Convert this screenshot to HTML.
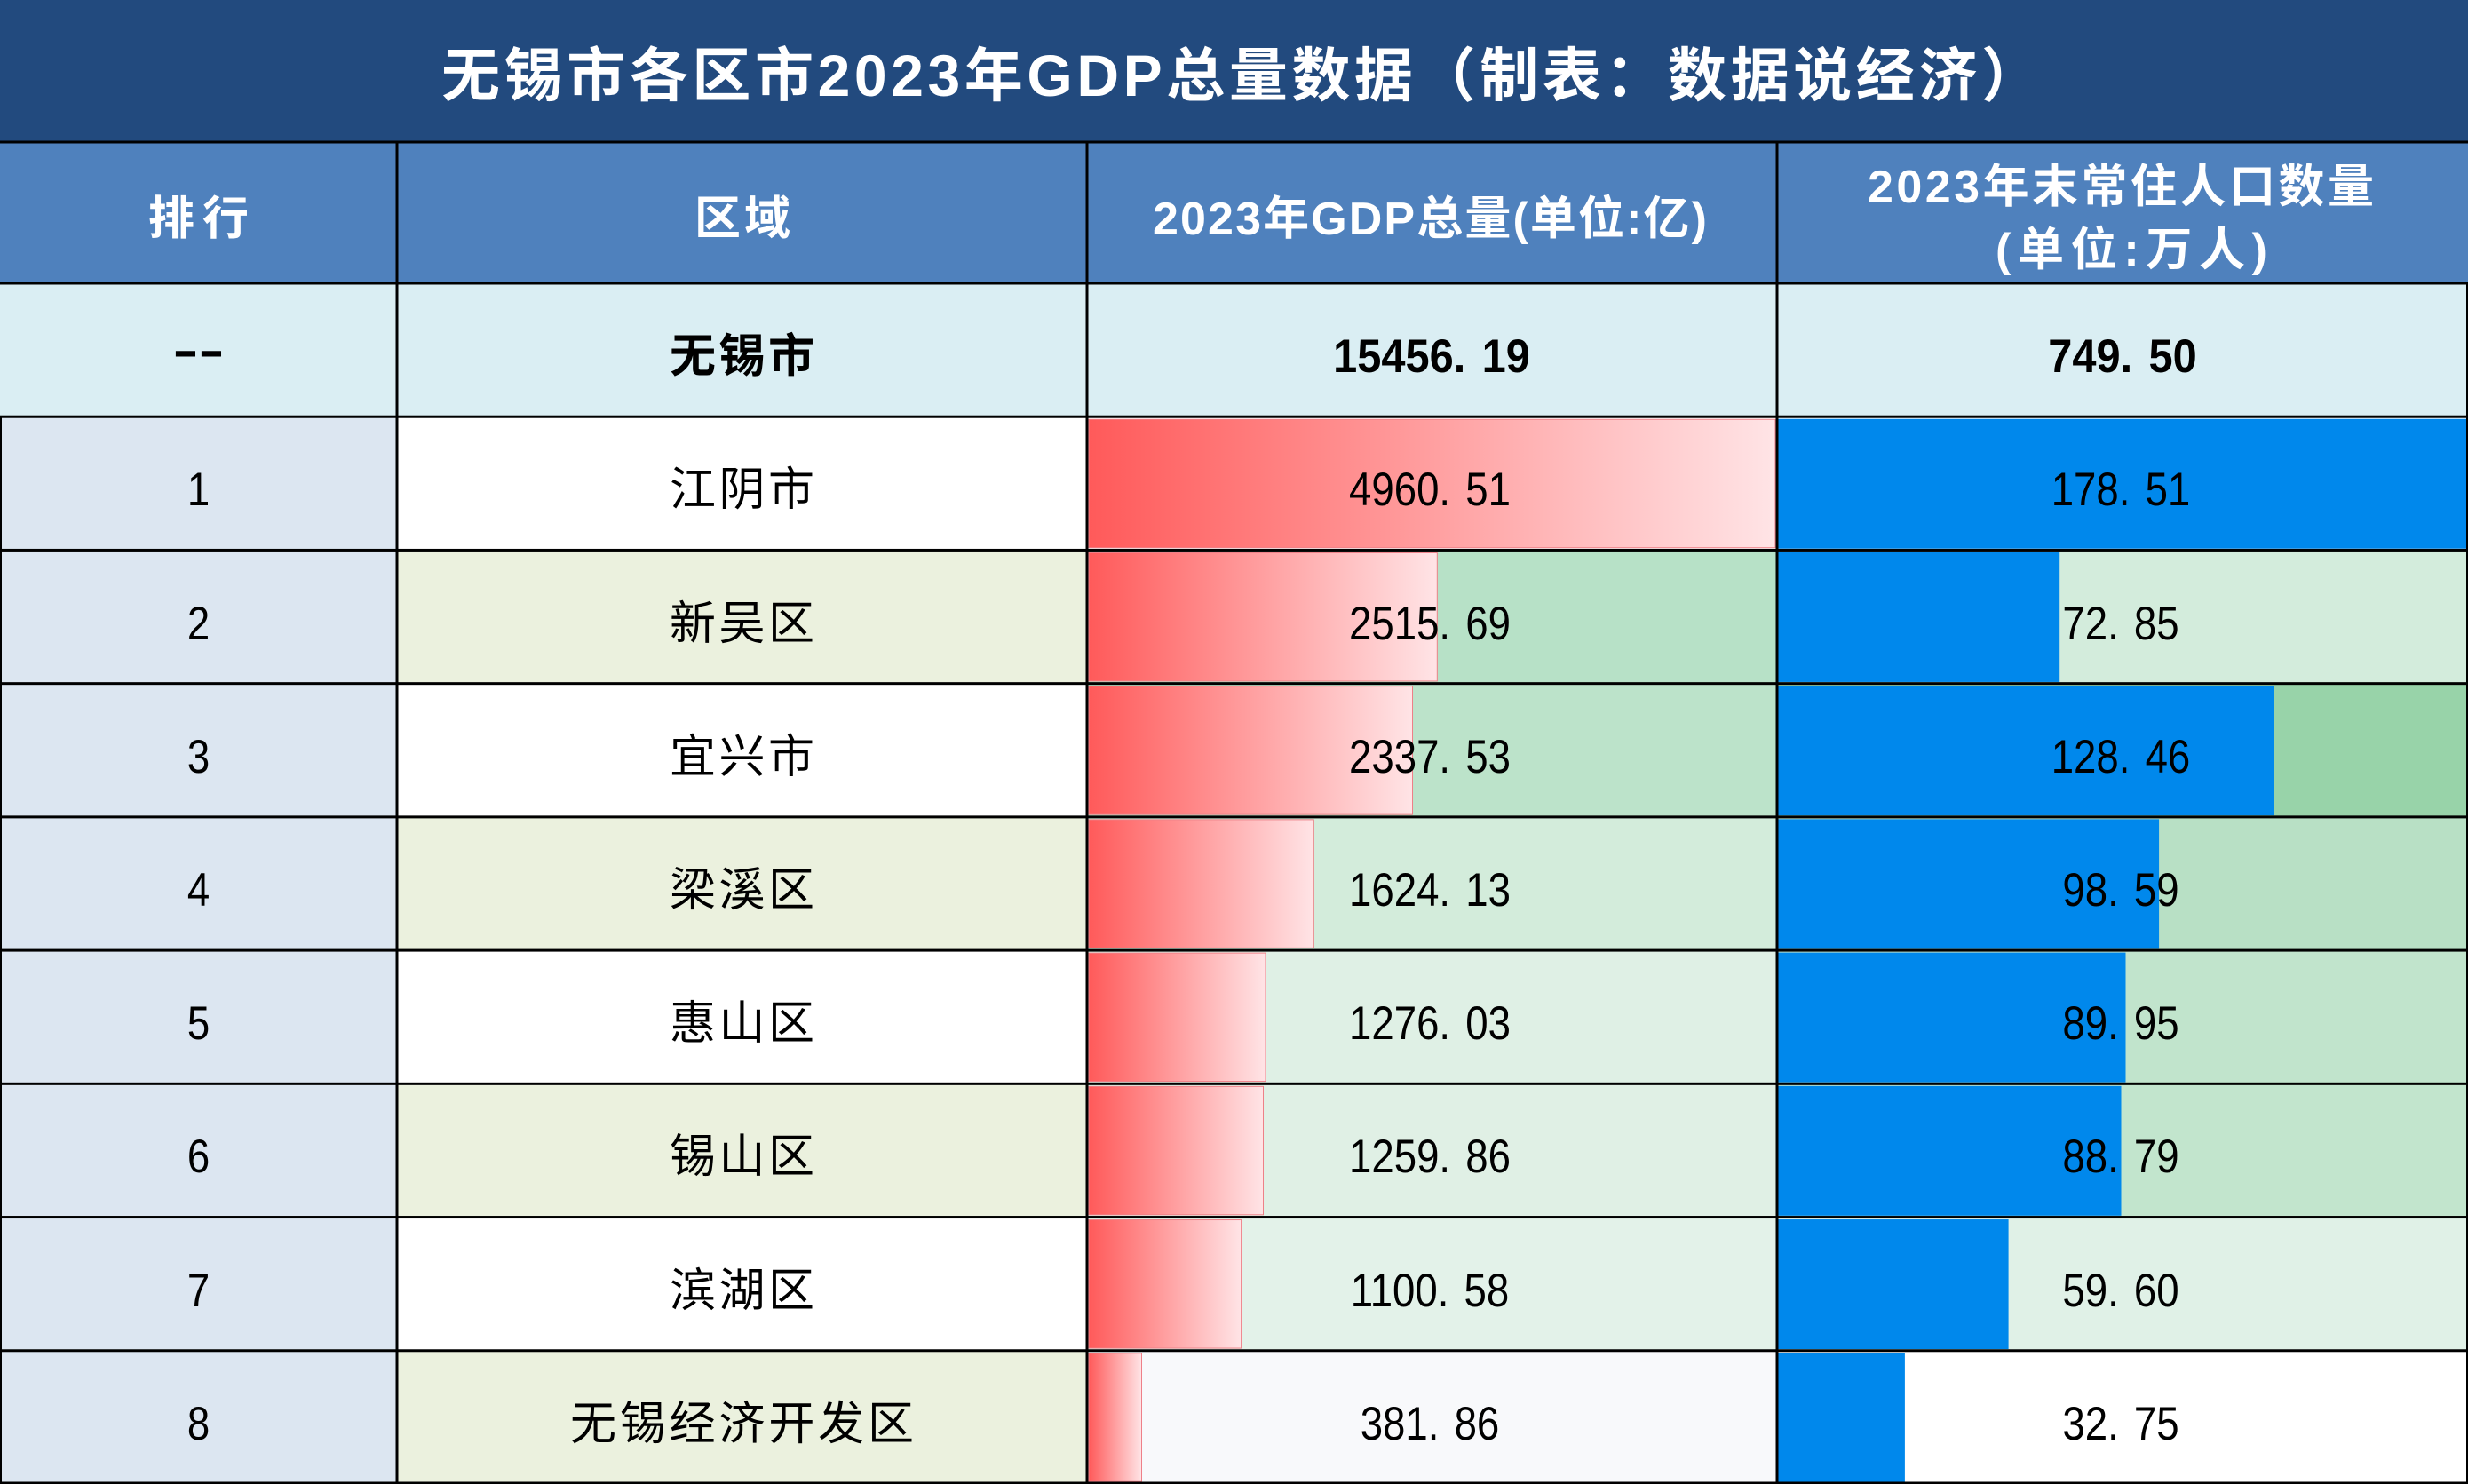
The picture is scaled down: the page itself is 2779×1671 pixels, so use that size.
<!DOCTYPE html>
<html>
<head>
<meta charset="utf-8">
<style>
html,body{margin:0;padding:0;background:#fff;}
body{width:2779px;height:1671px;overflow:hidden;}
svg{display:block;}
.cj{font-family:"Liberation Sans","Noto Sans CJK SC",sans-serif;}
.n{font-family:"Liberation Sans",sans-serif;font-size:53px;text-anchor:middle;fill:#000;}
.rg{font-size:52px;text-anchor:middle;fill:#000;}
.hd{font-size:52px;font-weight:bold;text-anchor:middle;fill:#fff;}
</style>
</head>
<body>
<svg width="2779" height="1671" viewBox="0 0 2779 1671" xmlns="http://www.w3.org/2000/svg">
<defs>
<linearGradient id="rg" x1="0" y1="0" x2="1" y2="0">
<stop offset="0" stop-color="#FF5A5A"/>
<stop offset="1" stop-color="#FFE4E6"/>
</linearGradient>
</defs>

<rect x="0" y="0" width="2779" height="160" fill="#224A7E"/>
<rect x="0" y="160" width="2779" height="159" fill="#4F81BD"/>

<rect x="0" y="319" width="2779" height="150.22" fill="#DAEEF3"/>

<rect x="0" y="469.22" width="447" height="1201.78" fill="#DCE6F1"/>

<rect x="447" y="469.22" width="777" height="150.22" fill="#FFFFFF"/>
<rect x="447" y="619.44" width="777" height="150.22" fill="#EBF1DE"/>
<rect x="447" y="769.66" width="777" height="150.22" fill="#FFFFFF"/>
<rect x="447" y="919.88" width="777" height="150.22" fill="#EBF1DE"/>
<rect x="447" y="1070.1" width="777" height="150.22" fill="#FFFFFF"/>
<rect x="447" y="1220.32" width="777" height="150.22" fill="#EBF1DE"/>
<rect x="447" y="1370.54" width="777" height="150.22" fill="#FFFFFF"/>
<rect x="447" y="1520.76" width="777" height="150.24" fill="#EBF1DE"/>

<rect x="1224" y="469.22" width="777" height="150.22" fill="#FFFFFF"/>
<rect x="1224" y="619.44" width="777" height="150.22" fill="#B7E1C7"/>
<rect x="1224" y="769.66" width="777" height="150.22" fill="#BCE3CA"/>
<rect x="1224" y="919.88" width="777" height="150.22" fill="#D3ECDB"/>
<rect x="1224" y="1070.1" width="777" height="150.22" fill="#DFF0E5"/>
<rect x="1224" y="1220.32" width="777" height="150.22" fill="#E0F0E5"/>
<rect x="1224" y="1370.54" width="777" height="150.22" fill="#E3F2E9"/>
<rect x="1224" y="1520.76" width="777" height="150.24" fill="#F8F9FB"/>

<rect x="2001" y="469.22" width="778" height="150.22" fill="#FFFFFF"/>
<rect x="2001" y="619.44" width="778" height="150.22" fill="#D3ECDC"/>
<rect x="2001" y="769.66" width="778" height="150.22" fill="#98D3A9"/>
<rect x="2001" y="919.88" width="778" height="150.22" fill="#B8E0C5"/>
<rect x="2001" y="1070.1" width="778" height="150.22" fill="#C1E4CC"/>
<rect x="2001" y="1220.32" width="778" height="150.22" fill="#C2E5CD"/>
<rect x="2001" y="1370.54" width="778" height="150.22" fill="#E0F1E7"/>
<rect x="2001" y="1520.76" width="778" height="150.24" fill="#FFFFFF"/>

<g fill="url(#rg)" stroke="#EE8088" stroke-width="1">
<rect x="1226" y="472.22" width="773" height="144.5"/>
<rect x="1226" y="622.44" width="392.3" height="144.5"/>
<rect x="1226" y="772.66" width="364.5" height="144.5"/>
<rect x="1226" y="922.88" width="253.3" height="144.5"/>
<rect x="1226" y="1073.1" width="199.0" height="144.5"/>
<rect x="1226" y="1223.32" width="196.5" height="144.5"/>
<rect x="1226" y="1373.54" width="171.6" height="144.5"/>
<rect x="1226" y="1523.76" width="59.5" height="144.5"/>
</g>

<g fill="#0088EC">
<rect x="2002.5" y="471.72" width="776.5" height="146"/>
<rect x="2002.5" y="621.94" width="316.7" height="146"/>
<rect x="2002.5" y="772.16" width="558.4" height="146"/>
<rect x="2002.5" y="922.38" width="428.6" height="146"/>
<rect x="2002.5" y="1072.6" width="391.0" height="146"/>
<rect x="2002.5" y="1222.82" width="386.0" height="146"/>
<rect x="2002.5" y="1373.04" width="259.1" height="146"/>
<rect x="2002.5" y="1523.26" width="142.4" height="146"/>
</g>

<g fill="#000">
<rect x="0" y="158.5" width="2779" height="3"/>
<rect x="0" y="317.5" width="2779" height="3"/>
<rect x="0" y="467.72" width="2779" height="3"/>
<rect x="0" y="617.94" width="2779" height="3"/>
<rect x="0" y="768.16" width="2779" height="3"/>
<rect x="0" y="918.38" width="2779" height="3"/>
<rect x="0" y="1068.6" width="2779" height="3"/>
<rect x="0" y="1218.82" width="2779" height="3"/>
<rect x="0" y="1369.04" width="2779" height="3"/>
<rect x="0" y="1519.26" width="2779" height="3"/>
<rect x="0" y="1668.5" width="2779" height="2.5"/>
<rect x="445.5" y="160" width="3" height="1511"/>
<rect x="1222.5" y="160" width="3" height="1511"/>
<rect x="1999.5" y="160" width="3" height="1511"/>
<rect x="0" y="469" width="2" height="1202"/>
<rect x="2777" y="319" width="2" height="1352"/>
</g>

<text class="cj" x="497" y="108" font-size="66" font-weight="bold" fill="#FFFFFF" textLength="1800" lengthAdjust="spacing">无锡市各区市2023年GDP总量数据（制表：数据说经济）</text>

<text class="cj hd" x="223.5" y="264" textLength="113" lengthAdjust="spacing">排行</text>
<text class="cj hd" x="836" y="264" textLength="108" lengthAdjust="spacing">区域</text>
<text class="cj hd" x="1610" y="264" textLength="624" lengthAdjust="spacing">2023年GDP总量(单位:亿)</text>
<text class="cj hd" x="2388" y="228" textLength="570" lengthAdjust="spacing">2023年末常住人口数量</text>
<text class="cj hd" x="2400" y="299" textLength="306" lengthAdjust="spacing">(单位:万人)</text>

<text class="n" x="223.5" y="412" font-weight="bold" textLength="58" lengthAdjust="spacingAndGlyphs">--</text>
<text class="cj rg" x="835.5" y="419" font-weight="bold" textLength="163" lengthAdjust="spacing">无锡市</text>
<text class="n" font-weight="bold" transform="translate(1612 419) scale(0.92 1)">15456.<tspan dx="20">19</tspan></text>
<text class="n" font-weight="bold" transform="translate(2390 419) scale(0.92 1)">749.<tspan dx="20">50</tspan></text>

<text class="n" transform="translate(223.5 569) scale(0.86 1)">1</text>
<text class="n" transform="translate(223.5 720) scale(0.86 1)">2</text>
<text class="n" transform="translate(223.5 870) scale(0.86 1)">3</text>
<text class="n" transform="translate(223.5 1020) scale(0.86 1)">4</text>
<text class="n" transform="translate(223.5 1170) scale(0.86 1)">5</text>
<text class="n" transform="translate(223.5 1320) scale(0.86 1)">6</text>
<text class="n" transform="translate(223.5 1471) scale(0.86 1)">7</text>
<text class="n" transform="translate(223.5 1621) scale(0.86 1)">8</text>

<text class="cj rg" x="835.5" y="569" textLength="163" lengthAdjust="spacing">江阴市</text>
<text class="cj rg" x="835.5" y="720" textLength="163" lengthAdjust="spacing">新吴区</text>
<text class="cj rg" x="835.5" y="870" textLength="163" lengthAdjust="spacing">宜兴市</text>
<text class="cj rg" x="835.5" y="1020" textLength="163" lengthAdjust="spacing">梁溪区</text>
<text class="cj rg" x="835.5" y="1170" textLength="163" lengthAdjust="spacing">惠山区</text>
<text class="cj rg" x="835.5" y="1320" textLength="163" lengthAdjust="spacing">锡山区</text>
<text class="cj rg" x="835.5" y="1471" textLength="163" lengthAdjust="spacing">滨湖区</text>
<text class="cj rg" x="835.5" y="1621" textLength="387" lengthAdjust="spacing">无锡经济开发区</text>

<text class="n" transform="translate(1610 569) scale(0.86 1)">4960.<tspan dx="20">51</tspan></text>
<text class="n" transform="translate(1610 720) scale(0.86 1)">2515.<tspan dx="20">69</tspan></text>
<text class="n" transform="translate(1610 870) scale(0.86 1)">2337.<tspan dx="20">53</tspan></text>
<text class="n" transform="translate(1610 1020) scale(0.86 1)">1624.<tspan dx="20">13</tspan></text>
<text class="n" transform="translate(1610 1170) scale(0.86 1)">1276.<tspan dx="20">03</tspan></text>
<text class="n" transform="translate(1610 1320) scale(0.86 1)">1259.<tspan dx="20">86</tspan></text>
<text class="n" transform="translate(1610 1471) scale(0.86 1)">1100.<tspan dx="20">58</tspan></text>
<text class="n" transform="translate(1610 1621) scale(0.86 1)">381.<tspan dx="20">86</tspan></text>

<text class="n" transform="translate(2388 569) scale(0.86 1)">178.<tspan dx="20">51</tspan></text>
<text class="n" transform="translate(2388 720) scale(0.86 1)">72.<tspan dx="20">85</tspan></text>
<text class="n" transform="translate(2388 870) scale(0.86 1)">128.<tspan dx="20">46</tspan></text>
<text class="n" transform="translate(2388 1020) scale(0.86 1)">98.<tspan dx="20">59</tspan></text>
<text class="n" transform="translate(2388 1170) scale(0.86 1)">89.<tspan dx="20">95</tspan></text>
<text class="n" transform="translate(2388 1320) scale(0.86 1)">88.<tspan dx="20">79</tspan></text>
<text class="n" transform="translate(2388 1471) scale(0.86 1)">59.<tspan dx="20">60</tspan></text>
<text class="n" transform="translate(2388 1621) scale(0.86 1)">32.<tspan dx="20">75</tspan></text>
</svg>
</body>
</html>
